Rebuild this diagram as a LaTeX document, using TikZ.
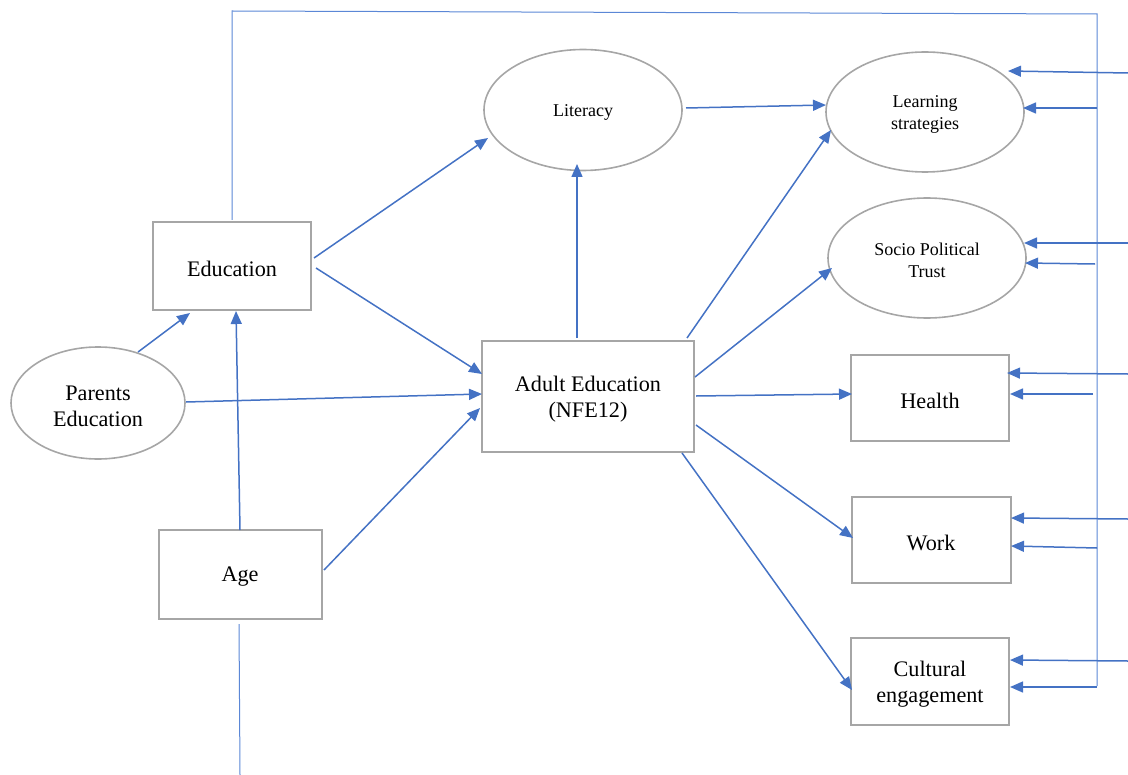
\documentclass[tikz,border=0pt]{standalone}
\usepackage{fontspec}
\setmainfont{Liberation Serif}
\usetikzlibrary{arrows.meta,shapes.geometric}
\definecolor{arrowblue}{HTML}{4472C4}
\definecolor{frameblue}{HTML}{5B87D6}
\definecolor{boxgray}{HTML}{A6A6A6}
\tikzset{
  box/.style={draw=boxgray, line width=1pt, rectangle, inner sep=0pt},
  oval/.style={draw=boxgray, line width=0.8pt, ellipse, inner sep=0pt},
  bigtext/.style={font=\fontsize{11.1}{13}\selectfont, align=center, inner sep=0pt, yshift=-1.5pt},
  smalltext/.style={font=\fontsize{9}{11}\selectfont, align=center, inner sep=0pt, yshift=-1pt},
  conn/.style={draw=arrowblue, line width=0.75pt, -{Triangle[length=6.5pt,width=5.5pt]}},
  frameline/.style={draw=frameblue, line width=0.5pt},
}
\begin{document}
\begin{tikzpicture}[x=0.5pt,y=-0.5pt]
\useasboundingbox (0,0) rectangle (1128,775);
% nodes
\node[box, minimum width=79pt, minimum height=44pt, label={[bigtext]center:Education}] (edu) at (232,266) {};
\node[oval, minimum width=87pt, minimum height=56pt, label={[bigtext]center:Parents\\Education}] (par) at (98,403) {};
\node[box, minimum width=81.5pt, minimum height=44.5pt, label={[bigtext]center:Age}] (age) at (240,574) {};
\node[box, minimum width=106pt, minimum height=55.5pt, label={[bigtext]center:Adult Education\\(NFE12)}] (adult) at (588,396) {};
\node[oval, minimum width=99pt, minimum height=60.5pt, label={[smalltext]center:Literacy}] (lit) at (583,110) {};
\node[oval, minimum width=99pt, minimum height=60pt, label={[smalltext]center:Learning\\strategies}] (learn) at (925,112) {};
\node[oval, minimum width=99pt, minimum height=60pt, label={[smalltext]center:Socio Political\\Trust}] (socio) at (927,258) {};
\node[box, minimum width=79pt, minimum height=43pt, label={[bigtext]center:Health}] (health) at (930,398) {};
\node[box, minimum width=79.5pt, minimum height=43pt, label={[bigtext]center:Work}] (work) at (931,540) {};
\node[box, minimum width=79pt, minimum height=43.5pt, label={[bigtext]center:Cultural\\engagement}] (cult) at (930,681) {};

% connectors between nodes
\draw[conn] ([shift={(40,-51)}]par.center) -- ([shift={(-42,47)}]edu.center);
\draw[conn] ([shift={(0,-44)}]age.center) -- ([shift={(4,45)}]edu.center);
\draw[conn] ([shift={(82,-8)}]edu.center) -- ([shift={(-95,28)}]lit.center);
\draw[conn] ([shift={(84,2)}]edu.center) -- ([shift={(-106,-22)}]adult.center);
\draw[conn] ([shift={(88,-1)}]par.center) -- ([shift={(-106,-2)}]adult.center);
\draw[conn] ([shift={(84,-4)}]age.center) -- ([shift={(-108,12)}]adult.center);
\draw[conn] ([shift={(-11,-58)}]adult.center) -- ([shift={(-6,54)}]lit.center);
\draw[conn] ([shift={(103,-2)}]lit.center) -- ([shift={(-99,-7)}]learn.center);
\draw[conn] ([shift={(99,-58)}]adult.center) -- ([shift={(-94,18)}]learn.center);
\draw[conn] ([shift={(107,-19)}]adult.center) -- ([shift={(-95,10)}]socio.center);
\draw[conn] ([shift={(108,0)}]adult.center) -- ([shift={(-78,-4)}]health.center);
\draw[conn] ([shift={(108,29)}]adult.center) -- ([shift={(-78,-2)}]work.center);
\draw[conn] ([shift={(94,57)}]adult.center) -- ([shift={(-78,9)}]cult.center);

% frame line
\coordinate (ftl) at (232,11);
\coordinate (ftr) at (1097,14);
\coordinate (fbr) at (1097,686);
\draw[frameline] ([shift={(0,-46)}]edu.center) -- (ftl) -- (ftr) -- (fbr);
\coordinate (agebot) at (240,775);
\draw[frameline] ([shift={(-1,50)}]age.center) -- (agebot);

% right side arrows
\coordinate (rA1) at (1128,73);
\coordinate (rA2) at (1097,108);
\coordinate (rB1) at (1128,243);
\coordinate (rB2) at (1095,264);
\coordinate (rC1) at (1128,374);
\coordinate (rC2) at (1093,394);
\coordinate (rD1) at (1128,519);
\coordinate (rD2) at (1097,548);
\coordinate (rE1) at (1128,661);
\coordinate (rE2) at (1097,687);
\draw[conn] (rA1) -- ([shift={(83,-41)}]learn.center);
\draw[conn] (rA2) -- ([shift={(98,-4)}]learn.center);
\draw[conn] (rB1) -- ([shift={(97,-15)}]socio.center);
\draw[conn] (rB2) -- ([shift={(98,5)}]socio.center);
\draw[conn] (rC1) -- ([shift={(77,-25)}]health.center);
\draw[conn] (rC2) -- ([shift={(80,-4)}]health.center);
\draw[conn] (rD1) -- ([shift={(80,-22)}]work.center);
\draw[conn] (rD2) -- ([shift={(80,6)}]work.center);
\draw[conn] (rE1) -- ([shift={(80,-21)}]cult.center);
\draw[conn] (rE2) -- ([shift={(80,6)}]cult.center);
\end{tikzpicture}
\end{document}
